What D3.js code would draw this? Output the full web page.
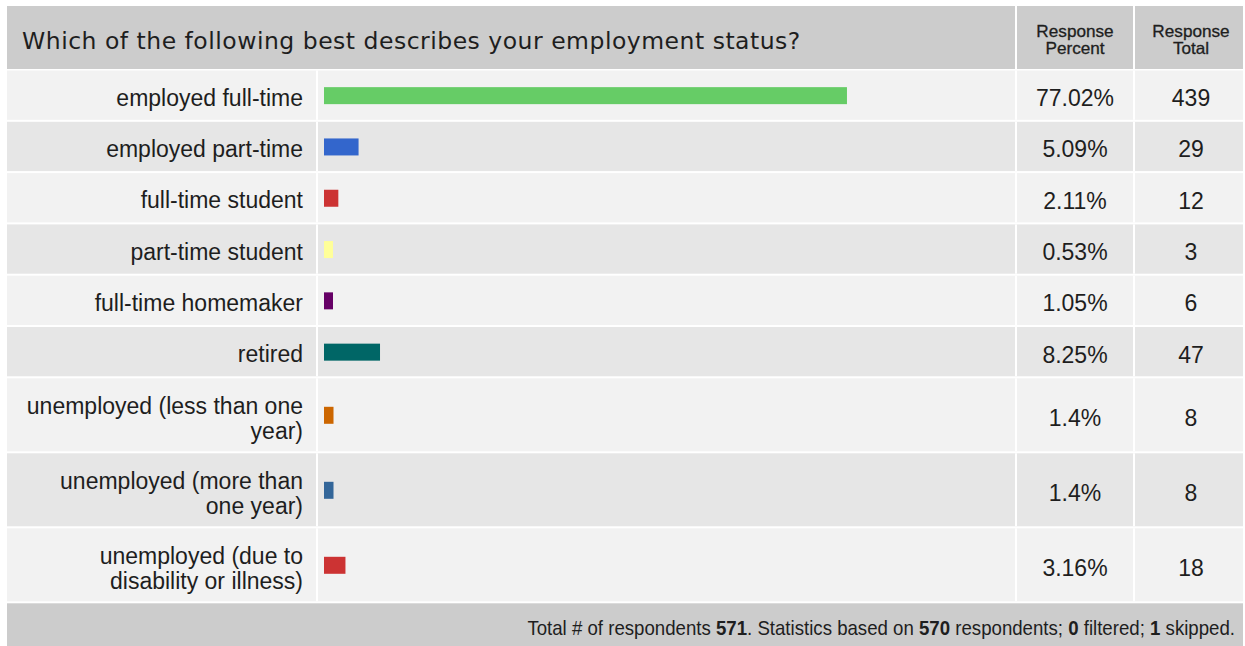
<!DOCTYPE html>
<html>
<head>
<meta charset="utf-8">
<script src="https://cdn.jsdelivr.net/npm/d3@7"></script>
<style>
  body { margin: 0; background: #fff; }
  text { font-family: "Liberation Sans", Arial, sans-serif; fill: #1e1e1e; }
  .title { font-family: "DejaVu Sans", Verdana, sans-serif; }
</style>
</head>
<body>
<div id="chart"></div>
<script>
// survey question + answers
const question = 'Which of the following best describes your employment status?'
const categories = [
  'employed full-time',
  'employed part-time',
  'full-time student',
  'part-time student',
  'full-time homemaker',
  'retired',
  'unemployed (less than one\nyear)',
  'unemployed (more than\none year)',
  'unemployed (due to\ndisability or illness)'
]
const percents = [77.02, 5.09, 2.11, 0.53, 1.05, 8.25, 1.4, 1.4, 3.16]
const totals = [439, 29, 12, 3, 6, 47, 8, 8, 18]
const barColors = ['#66cc66', '#3366cc', '#cc3333', '#ffff99', '#660066', '#006666', '#cc6600', '#336699', '#cc3333']
const colHeaders = [['Response', 'Percent'], ['Response', 'Total']]
const footer = [['Total # of respondents ', false], ['571', true], ['. Statistics based on ', false], ['570', true],
  [' respondents; ', false], ['0', true], [' filtered; ', false], ['1', true], [' skipped.', false]]

const width = 1245
const height = 646
const tableLeft = 7
const tableRight = 1243
const tableTop = 6
const headerH = 63
const cols = { label: 316, bar: 1015, pct: 1133 } // right edges of columns
const gap = 2

const svg = d3.select('#chart')
  .append('svg')
  .attr('width', width)
  .attr('height', height)

// row heights depend on how many lines the label needs
const rows = categories.map((c, i) => {
  const lines = c.split('\n')
  return { label: lines, pct: percents[i], total: totals[i], color: barColors[i], pitch: lines.length > 1 ? 75 : 51.3 }
})
let y0 = tableTop + headerH + 1.5
rows.forEach(r => { r.y = y0; y0 += r.pitch })
const footerY = y0

const x = d3.scaleLinear().domain([0, 100]).range([0, 679])

// header
svg.append('rect').attr('x', tableLeft).attr('y', tableTop).attr('width', tableRight - tableLeft).attr('height', headerH).style('fill', '#cccccc')
svg.append('text').attr('class', 'title').attr('x', 22).attr('y', 49)
  .attr('font-size', '23.5px').style('letter-spacing', '0.5px').text(question)
const headerCols = [[cols.bar + gap, cols.pct, 1075], [cols.pct + gap, tableRight, 1191]]
headerCols.forEach(function (c, i) {
  svg.append('rect').attr('x', c[0] - gap).attr('y', tableTop).attr('width', gap).attr('height', headerH).style('fill', '#fff')
  colHeaders[i].forEach(function (s, j) {
    svg.append('g')
      .attr('transform', 'translate(' + c[2] + ',' + (37 + j * 16.5) + ') scale(1.04,1)')
      .append('text')
      .attr('text-anchor', 'middle')
      .attr('font-size', '16.5px')
      .style('stroke', '#1e1e1e')
      .style('stroke-width', 0.3)
      .text(s)
  })
})

// rows
const row = svg.selectAll('g.row')
  .data(rows)
  .enter()
  .append('g')
  .attr('class', 'row')
  .attr('transform', function (d) { return 'translate(0,' + d.y + ')' })

row.append('rect')
  .attr('x', tableLeft)
  .attr('width', tableRight - tableLeft)
  .attr('height', function (d) { return d.pitch - gap })
  .style('fill', function (d, i) { return i % 2 === 0 ? '#f2f2f2' : '#e6e6e6' })

;[cols.label, cols.bar, cols.pct].forEach(function (cx) {
  row.append('rect').attr('x', cx).attr('width', gap).attr('height', function (d) { return d.pitch - gap }).style('fill', '#fff')
})

row.append('rect')
  .attr('x', 324)
  .attr('y', function (d) { return (d.pitch - gap) / 2 - 8 })
  .attr('width', function (d) { return Math.max(9, x(d.pct)) })
  .attr('height', 17)
  .style('fill', function (d) { return d.color })

row.append('text')
  .attr('text-anchor', 'end')
  .attr('font-size', '23px')
  .attr('y', function (d) { return (d.pitch - gap) / 2 + 10.5 - (d.label.length - 1) * 11.5 })
  .each(function (d) {
    d3.select(this).selectAll('tspan').data(d.label).enter().append('tspan')
      .attr('x', 303).attr('dy', function (s, j) { return j === 0 ? 0 : 25 }).text(function (s) { return s })
  })

row.append('text')
  .attr('text-anchor', 'middle')
  .attr('font-size', '23px')
  .attr('x', 1075)
  .attr('y', function (d) { return (d.pitch - gap) / 2 + 11 })
  .text(function (d) { return d.pct + '%' })

row.append('text')
  .attr('text-anchor', 'middle')
  .attr('font-size', '23px')
  .attr('x', 1191)
  .attr('y', function (d) { return (d.pitch - gap) / 2 + 11 })
  .text(function (d) { return d.total })

// footer (narrow type: squeeze regular sans horizontally)
svg.append('rect').attr('x', tableLeft).attr('y', footerY).attr('width', tableRight - tableLeft).attr('height', height - footerY).style('fill', '#cccccc')
const ft = svg.append('g')
  .attr('transform', 'translate(1235,' + (footerY + 32) + ') scale(0.91,1)')
  .append('text')
  .attr('text-anchor', 'end')
  .attr('font-size', '20.5px')
ft.selectAll('tspan').data(footer).enter().append('tspan')
  .style('font-weight', function (d) { return d[1] ? 'bold' : 'normal' })
  .text(function (d) { return d[0] })
</script>
</body>
</html>
